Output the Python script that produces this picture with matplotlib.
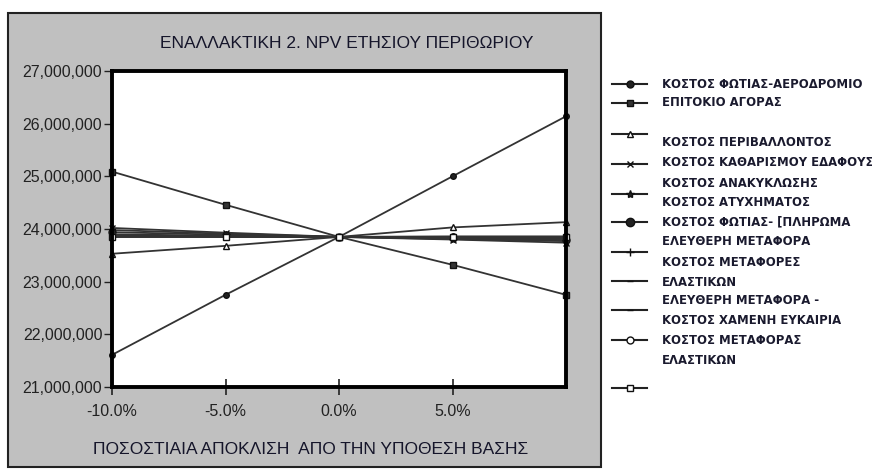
import matplotlib
matplotlib.use('Agg')
import matplotlib.pyplot as plt
from matplotlib.patches import Rectangle
from matplotlib.lines import Line2D
from matplotlib.ticker import FuncFormatter

# data: percent deviation from base case, NPV in millions
deviation = [-10, -5, 0, 5, 10]
xtick_vals = [-10, -5, 0, 5]
xtick_labels = ['-10.0%', '-5.0%', '0.0%', '5.0%']
ytick_vals = [21e6, 22e6, 23e6, 24e6, 25e6, 26e6, 27e6]

fire_airport = [21.61, 22.75, 23.85, 25.00, 26.14]
interest_rate = [25.09, 24.46, 23.85, 23.32, 22.75]
environment = [23.53, 23.68, 23.85, 24.03, 24.13]
soil_cleaning = [24.02, 23.93, 23.85, 23.80, 23.74]
recycling = [23.98, 23.91, 23.85, 23.81, 23.77]
fire_crew = [23.94, 23.89, 23.85, 23.82, 23.79]
free_transport = [23.90, 23.87, 23.85, 23.83, 23.81]
tire_transport = [23.88, 23.86, 23.85, 23.84, 23.83]
opportunity = [23.87, 23.86, 23.85, 23.85, 23.84]
tire_transport2 = [23.85, 23.85, 23.85, 23.86, 23.86]
unnamed = [23.85, 23.85, 23.85, 23.85, 23.85]

series = [fire_airport, interest_rate, environment, soil_cleaning, recycling,
          fire_crew, free_transport, tire_transport, opportunity,
          tire_transport2, unnamed]

# marker, face colour, size
styles = [('o', '#222222', 4), ('s', '#333333', 4), ('^', 'white', 4),
          ('x', '#222222', 4), ('*', '#222222', 5), ('o', '#222222', 5),
          ('+', '#222222', 5), ('_', '#222222', 4), ('_', '#222222', 4),
          ('o', 'white', 4), ('s', 'white', 4)]

title = 'ΕΝΑΛΛΑΚΤΙΚΗ 2. NPV ΕΤΗΣΙΟΥ ΠΕΡΙΘΩΡΙΟΥ'
xlabel = 'ΠΟΣΟΣΤΙΑΙΑ ΑΠΟΚΛΙΣΗ  ΑΠΟ ΤΗΝ ΥΠΟΘΕΣΗ ΒΑΣΗΣ'

legend_texts = [
    'ΚΟΣΤΟΣ ΦΩΤΙΑΣ-ΑΕΡΟΔΡΟΜΙΟ', 'ΕΠΙΤΟΚΙΟ ΑΓΟΡΑΣ', 'ΚΟΣΤΟΣ ΠΕΡΙΒΑΛΛΟΝΤΟΣ',
    'ΚΟΣΤΟΣ ΚΑΘΑΡΙΣΜΟΥ ΕΔΑΦΟΥΣ', 'ΚΟΣΤΟΣ ΑΝΑΚΥΚΛΩΣΗΣ', 'ΚΟΣΤΟΣ ΑΤΥΧΗΜΑΤΟΣ',
    'ΚΟΣΤΟΣ ΦΩΤΙΑΣ- [ΠΛΗΡΩΜΑ', 'ΕΛΕΥΘΕΡΗ ΜΕΤΑΦΟΡΑ', 'ΚΟΣΤΟΣ ΜΕΤΑΦΟΡΕΣ',
    'ΕΛΑΣΤΙΚΩΝ', 'ΕΛΕΥΘΕΡΗ ΜΕΤΑΦΟΡΑ -', 'ΚΟΣΤΟΣ ΧΑΜΕΝΗ ΕΥΚΑΙΡΙΑ',
    'ΚΟΣΤΟΣ ΜΕΤΑΦΟΡΑΣ', 'ΕΛΑΣΤΙΚΩΝ']
# pixel rows (from top) for the legend
marker_rows = [84, 103, 134, 164, 194, 222, 252, 281, 310, 340, 388]
text_rows = [84, 103, 143, 163, 183, 203, 222, 242, 262, 282, 301, 321, 340, 360]

W, H = 872, 470
fig = plt.figure(figsize=(W / 100, H / 100), dpi=100)
fig.patch.set_facecolor('white')

# gray panel behind the chart
fig.patches.append(Rectangle((8 / W, 3 / H), (601 - 8) / W, (457 - 3) / H,
                             transform=fig.transFigure, facecolor='#c0c0c0',
                             edgecolor='#222222', linewidth=1.5, zorder=-5))

ax = fig.add_axes([112 / W, (H - 387) / H, (566 - 112) / W, (387 - 71) / H])
ax.set_zorder(2)
ax.set_facecolor('white')

for vals, (m, fc, ms) in zip(series, styles):
    ax.plot(deviation, [v * 1e6 for v in vals], color='#333333', lw=1.3,
            marker=m, markersize=ms, markerfacecolor=fc,
            markeredgecolor='#111111', markeredgewidth=1.0, clip_on=False)

ax.set_xlim(-10, 10)
ax.set_ylim(21e6, 27e6)
ax.set_xticks(xtick_vals)
ax.set_xticklabels(xtick_labels)
ax.set_yticks(ytick_vals)
ax.yaxis.set_major_formatter(FuncFormatter(lambda v, p: '{:,.0f}'.format(v)))
for lab in ax.get_xticklabels() + ax.get_yticklabels():
    lab.set_family('Liberation Sans')
    lab.set_fontsize(11.5)
    lab.set_color('#222222')
ax.tick_params(axis='y', direction='out', length=6, width=1, colors='#222222', pad=1)
ax.tick_params(axis='x', direction='inout', length=12, width=1.2, colors='#222222', pad=6)
for s in ax.spines.values():
    s.set_linewidth(2.8)
    s.set_color('black')

fig.text(347 / W, 1 - 44 / H, title, ha='center', va='center', fontsize=12.5,
         family='Liberation Sans', color='#15152a')
fig.text(311 / W, 1 - 450 / H, xlabel, ha='center', va='center', fontsize=12.5,
         family='Liberation Sans', color='#15152a')

# legend drawn by hand, matching the odd spacing of the original
for y, (m, fc, ms) in zip(marker_rows, styles):
    fig.lines.append(Line2D([612 / W, 647 / W], [1 - y / H, 1 - y / H],
                            transform=fig.transFigure, color='#222222', lw=1.5))
    fig.lines.append(Line2D([629.5 / W], [1 - y / H], transform=fig.transFigure,
                            linestyle='none', marker=m, markersize=ms + 1,
                            markerfacecolor=fc, markeredgecolor='#111111',
                            markeredgewidth=1.0))
for y, t in zip(text_rows, legend_texts):
    fig.text(662 / W, 1 - y / H, t, ha='left', va='center', fontsize=8.4,
             family='DejaVu Sans', weight='bold', color='#1a1a2e')

fig.savefig('out.png', dpi=100)
